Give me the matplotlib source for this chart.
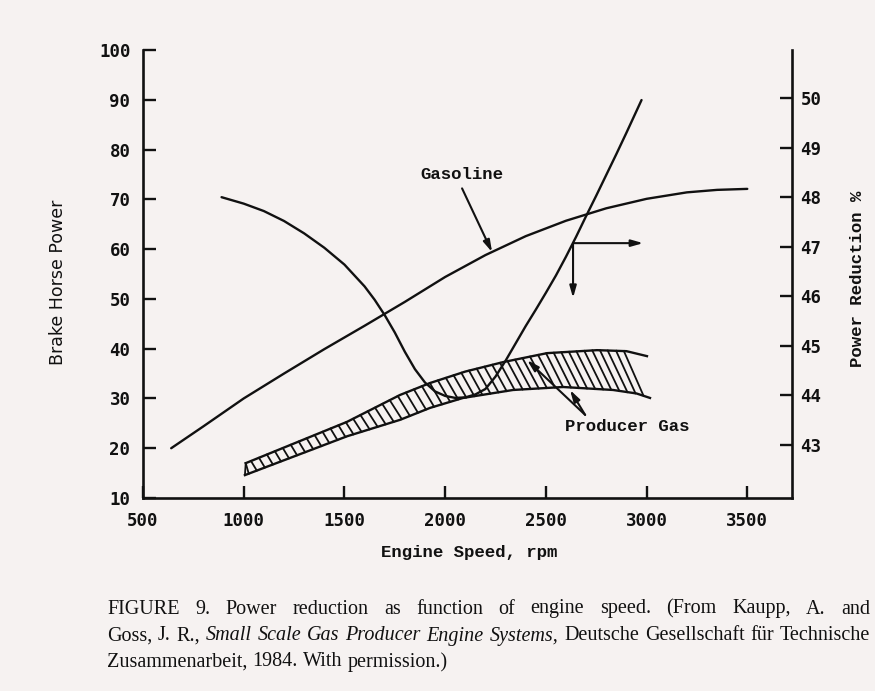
import numpy as np
import matplotlib
matplotlib.use("Agg")
import matplotlib.pyplot as plt

# ---------------- data ----------------
gas_rpm = [640, 800, 1000, 1200, 1400, 1600, 1800, 2000, 2200, 2400, 2600, 2800, 3000,
           3200, 3350, 3500]
gas_bhp = [20.0, 24.4, 30.0, 35.0, 39.9, 44.6, 49.4, 54.4, 58.8, 62.6, 65.7, 68.2, 70.1,
           71.4, 71.9, 72.1]

pred_rpm = [890, 1000, 1100, 1200, 1300, 1400, 1500, 1600, 1650, 1700, 1750, 1800, 1850,
            1900, 1950, 2000, 2050, 2100, 2150, 2200, 2250, 2300, 2350, 2400, 2450, 2500,
            2550, 2600, 2650, 2700, 2750, 2800, 2850, 2900, 2975]
pred_pct = [48.00, 47.87, 47.72, 47.52, 47.27, 46.98, 46.64, 46.20, 45.93, 45.62, 45.27,
            44.88, 44.53, 44.26, 44.08, 43.99, 43.95, 43.96, 44.02, 44.13, 44.38, 44.70,
            45.05, 45.40, 45.73, 46.07, 46.42, 46.80, 47.20, 47.62, 48.03, 48.45, 48.87,
            49.30, 49.96]

prod_up_rpm = [1010, 1513, 1776, 1925, 2100, 2288, 2506, 2754, 2900, 3002]
prod_up_bhp = [17.0, 25.3, 30.7, 33.1, 35.4, 37.3, 39.1, 39.7, 39.5, 38.5]
prod_lo_rpm = [1006, 1513, 1776, 1925, 2089, 2337, 2585, 2834, 2950, 3017]
prod_lo_bhp = [14.6, 22.4, 25.7, 28.1, 30.1, 31.7, 32.3, 31.7, 31.0, 30.1]

x_ticks = [500, 1000, 1500, 2000, 2500, 3000, 3500]
y_ticks = [10, 20, 30, 40, 50, 60, 70, 80, 90, 100]
r_ticks = [43, 44, 45, 46, 47, 48, 49, 50]

caption1 = [("FIGURE 9.", "normal"), ("Power reduction as function of engine speed. (From Kaupp, A. and", "normal")]
caption2 = [("Goss, J. R.,", "normal"), ("Small Scale Gas Producer Engine Systems,", "italic"),
            ("Deutsche Gesellschaft f\u00fcr Technische", "normal")]
caption3 = [("Zusammenarbeit, 1984. With permission.)", "normal")]

# ---------------- figure ----------------
W, H = 875, 691
paper = "#f6f2f1"
ink = "#111111"
fig = plt.figure(figsize=(W / 100, H / 100), dpi=100, facecolor=paper)
ax = fig.add_axes([143 / W, 1 - 498 / H, (792 - 143) / W, 448 / H])
ax.set_facecolor("none")
ax2 = ax.twinx()

ax.set_xlim(500, 3722)
ax.set_ylim(10, 100)
ax2.set_ylim(41.93, 50.97)

lw = 1.7
ax.plot(gas_rpm, gas_bhp, color=ink, lw=lw, solid_capstyle="round", solid_joinstyle="round")
ax2.plot(pred_rpm, pred_pct, color=ink, lw=lw, solid_capstyle="round", solid_joinstyle="round")
ax.plot(prod_up_rpm, prod_up_bhp, color=ink, lw=lw, solid_joinstyle="round")
ax.plot(prod_lo_rpm, prod_lo_bhp, color=ink, lw=lw, solid_joinstyle="round")

# hatching of the producer gas band (steep back-slash lines)
k = 12.0
for xb in np.arange(1025, 3018, 40):
    yb = np.interp(xb, prod_lo_rpm, prod_lo_bhp)
    xt = xb - k * (np.interp(xb, prod_up_rpm, prod_up_bhp) - yb)
    xt = max(xt, prod_up_rpm[0])
    yt = np.interp(xt, prod_up_rpm, prod_up_bhp)
    ax.plot([xt, xb], [yt, yb], color=ink, lw=1.3)
ax.plot([prod_lo_rpm[0], prod_up_rpm[0]], [prod_lo_bhp[0], prod_up_bhp[0]], color=ink, lw=1.3)

# spines & ticks
for a in (ax, ax2):
    a.spines["top"].set_visible(False)
    for s in ("left", "right", "bottom"):
        a.spines[s].set_linewidth(1.9)
        a.spines[s].set_color(ink)
ax2.spines["left"].set_visible(False)
ax2.spines["bottom"].set_visible(False)
ax.spines["right"].set_visible(False)

mono = "DejaVu Sans Mono"
ax.set_xticks(x_ticks)
ax.set_yticks(y_ticks)
ax2.set_yticks(r_ticks)
ax.tick_params(axis="both", direction="in", length=9, width=1.7, color=ink,
               labelsize=12.5, labelcolor=ink)
ax.tick_params(axis="x", pad=10)
ax.tick_params(axis="y", pad=9)
ax2.tick_params(axis="y", direction="in", length=9, width=1.7, color=ink,
                labelsize=12.5, labelcolor=ink, pad=6)
ax.xaxis.set_ticks_position("bottom")
ax.yaxis.set_ticks_position("left")
for lab in ax.get_xticklabels() + ax.get_yticklabels() + ax2.get_yticklabels():
    lab.set_family(mono)
    lab.set_weight("semibold")

courier = "Liberation Mono"
fig.text(58 / W, 1 - 282 / H, "Brake Horse Power", rotation=90, ha="center", va="center",
         family="DejaVu Sans", fontsize=12.5, color=ink)
fig.text(858 / W, 1 - 279 / H, "Power Reduction %", rotation=90, ha="center", va="center",
         family=courier, fontsize=12.5, weight="bold", color=ink)
fig.text(469 / W, 1 - 552 / H, "Engine Speed, rpm", ha="center", va="center",
         family=courier, fontsize=12.5, weight="bold", color=ink)

# annotations
ax.text(2084, 74.9, "Gasoline", ha="center", va="center", family=courier,
        fontsize=12.5, weight="bold", color=ink)
ap = dict(arrowstyle="-|>,head_length=0.7,head_width=0.2", color=ink, lw=1.5,
          shrinkA=0, shrinkB=0)
ax.annotate("", xy=(2233, 59.4), xytext=(2084, 72.2), arrowprops=ap)
ax.annotate("", xy=(2983, 61.2), xytext=(2635, 61.2), arrowprops=ap)
ax.annotate("", xy=(2635, 50.2), xytext=(2635, 61.2), arrowprops=ap)
ax.text(2903, 24.3, "Producer Gas", ha="center", va="center", family=courier,
        fontsize=12.5, weight="bold", color=ink)
ax.annotate("", xy=(2407, 37.7), xytext=(2695, 26.7), arrowprops=ap)
ax.annotate("", xy=(2620, 31.7), xytext=(2695, 26.7), arrowprops=ap)

# caption (justified lines built from words)
serif = "Liberation Serif"
cfs = 14.5
fig.canvas.draw()
r = fig.canvas.get_renderer()


def caption_line(parts, ypix, justify, x0=107, x1=870):
    words = []
    for i, (txt, style) in enumerate(parts):
        for w in txt.split(" "):
            if w:
                words.append((w, style))
    objs = []
    total = 0.0
    for w, style in words:
        t = fig.text(0, 1 - ypix / H, w, ha="left", va="center", family=serif,
                     fontsize=cfs, style=style, color=ink)
        wd = t.get_window_extent(r).width
        objs.append((t, wd))
        total += wd
    if justify and len(objs) > 1:
        gap = (x1 - x0 - total) / (len(objs) - 1)
    else:
        gap = cfs * 100 / 72 * 0.25
    x = x0
    for t, wd in objs:
        t.set_x(x / W)
        x += wd + gap


caption_line(caption1, 609, True)
caption_line(caption2, 636, True)
caption_line(caption3, 662, False)

fig.savefig("out.png", dpi=100, facecolor=paper)
